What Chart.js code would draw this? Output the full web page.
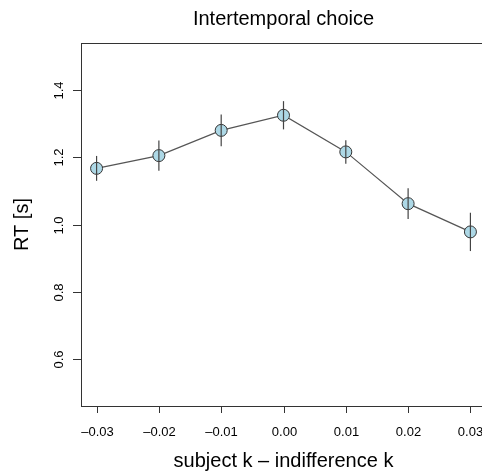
<!DOCTYPE html>
<html>
<head>
<meta charset="utf-8">
<script src="https://cdn.jsdelivr.net/npm/chart.js@4/dist/chart.umd.min.js"></script>
<style>
    html, body { margin: 0; padding: 0; background: #fff; overflow: hidden; }
    #wrap { width: 482px; height: 473px; overflow: hidden; }
</style>
</head>
<body>
<div id="wrap"><canvas id="rt-chart" width="500" height="473"></canvas></div>
<script>
// Données
const xValues = [-0.03, -0.02, -0.01, 0.00, 0.01, 0.02, 0.03];
const rtMeans = [1.167, 1.205, 1.280, 1.325, 1.216, 1.062, 0.978];
const rtErrors = [0.037, 0.045, 0.047, 0.042, 0.035, 0.046, 0.057];

// Graduations
const xTicks = [-0.03, -0.02, -0.01, 0.00, 0.01, 0.02, 0.03];
const xTickLabels = ["\u20130.03", "\u20130.02", "\u20130.01", "0.00", "0.01", "0.02", "0.03"];
const yTicks = [0.6, 0.8, 1.0, 1.2, 1.4];
const yTickLabels = ["0.6", "0.8", "1.0", "1.2", "1.4"];

const titleText = "Intertemporal choice";
const xTitle = "subject k \u2013 indifference k";
const yTitle = "RT [s]";

const FONT = '"Liberation Sans", Arial, Helvetica, sans-serif';
const AXIS_COLOR = "#333";
const TICK_LEN = 7;

// Axes façon R : cadre, graduations, libellés
const rAxesPlugin = {
    id: "rAxes",
    afterDraw(chart) {
        const { ctx, chartArea: area, scales } = chart;
        const xs = scales.x, ys = scales.y;
        ctx.save();
        ctx.strokeStyle = AXIS_COLOR;
        ctx.lineWidth = 1;

        // cadre
        ctx.strokeRect(Math.round(area.left) + 0.5, Math.round(area.top) + 0.5,
            area.right - area.left, area.bottom - area.top);

        ctx.fillStyle = "#000";

        // axe x
        ctx.font = "13px " + FONT;
        ctx.textAlign = "center";
        ctx.textBaseline = "alphabetic";
        xTicks.forEach((v, i) => {
            const px = Math.round(xs.getPixelForValue(v)) + 0.5;
            ctx.beginPath();
            ctx.moveTo(px, area.bottom);
            ctx.lineTo(px, area.bottom + TICK_LEN);
            ctx.stroke();
            ctx.fillText(xTickLabels[i], px, area.bottom + 30);
        });

        // axe y (libellés verticaux)
        yTicks.forEach((v, i) => {
            const py = Math.round(ys.getPixelForValue(v)) + 0.5;
            ctx.beginPath();
            ctx.moveTo(area.left, py);
            ctx.lineTo(area.left - TICK_LEN - 1, py);
            ctx.stroke();
            ctx.save();
            ctx.translate(area.left - 18.5, py);
            ctx.rotate(-Math.PI / 2);
            ctx.fillText(yTickLabels[i], 0, 0);
            ctx.restore();
        });

        // titres
        const cx = (area.left + area.right) / 2;
        ctx.font = "20px " + FONT;
        ctx.fillText(titleText, cx, 25);
        ctx.fillText(xTitle, cx, 467);
        ctx.save();
        ctx.translate(28, (area.top + area.bottom) / 2);
        ctx.rotate(-Math.PI / 2);
        ctx.fillText(yTitle, 0, 0);
        ctx.restore();

        ctx.restore();
    }
};

// Barres d'erreur dessinées par-dessus les points
const errorBarPlugin = {
    id: "errorBars",
    afterDatasetsDraw(chart) {
        const { ctx, scales } = chart;
        ctx.save();
        ctx.strokeStyle = "#444";
        ctx.lineWidth = 1.2;
        xValues.forEach((x, i) => {
            const px = scales.x.getPixelForValue(x);
            ctx.beginPath();
            ctx.moveTo(px, scales.y.getPixelForValue(rtMeans[i] + rtErrors[i]));
            ctx.lineTo(px, scales.y.getPixelForValue(rtMeans[i] - rtErrors[i]));
            ctx.stroke();
        });
        ctx.restore();
    }
};

new Chart(document.getElementById("rt-chart"), {
    type: "line",
    data: {
        datasets: [{
            data: xValues.map((x, i) => ({ x: x, y: rtMeans[i] })),
            borderColor: "#555",
            borderWidth: 1.2,
            tension: 0,
            pointRadius: 6,
            pointBorderWidth: 1,
            pointBorderColor: "#333",
            pointBackgroundColor: "#add8e6",
            clip: false,
        }],
    },
    options: {
        responsive: false,
        animation: false,
        devicePixelRatio: 1,
        layout: { padding: { left: 81, top: 43, right: 14, bottom: 67 } },
        plugins: {
            legend: { display: false },
            tooltip: { enabled: false },
        },
        scales: {
            x: { type: "linear", min: -0.0325, max: 0.0325, display: false },
            y: { type: "linear", min: 0.46, max: 1.54, display: false },
        },
    },
    plugins: [errorBarPlugin, rAxesPlugin],
});
</script>
</body>
</html>
